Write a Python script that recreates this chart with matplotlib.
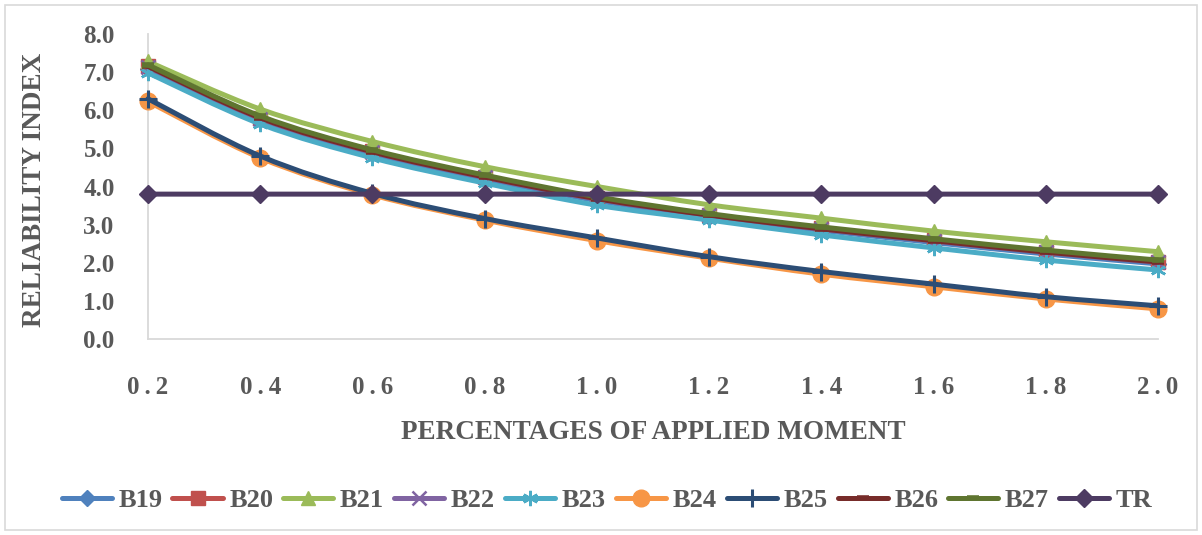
import matplotlib
matplotlib.use('Agg')
from matplotlib import pyplot as plt
from matplotlib.path import Path
from matplotlib.patches import PathPatch, Rectangle
from matplotlib.lines import Line2D
import numpy as np

plt.rcParams['font.family'] = ['Liberation Serif', 'DejaVu Serif']

moment = [0.2, 0.4, 0.6, 0.8, 1.0, 1.2, 1.4, 1.6, 1.8, 2.0]
x_labels = ['0\u2009.\u20092', '0\u2009.\u20094', '0\u2009.\u20096', '0\u2009.\u20098', '1\u2009.\u20090',
            '1\u2009.\u20092', '1\u2009.\u20094', '1\u2009.\u20096', '1\u2009.\u20098', '2\u2009.\u20090']

b19 = [7.08, 5.74, 4.86, 4.20, 3.63, 3.21, 2.85, 2.53, 2.23, 1.97]
b20 = [7.17, 5.80, 4.92, 4.26, 3.69, 3.26, 2.90, 2.59, 2.29, 2.03]
b21 = [7.28, 6.03, 5.18, 4.52, 4.00, 3.52, 3.17, 2.83, 2.55, 2.29]
b22 = [7.14, 5.78, 4.90, 4.24, 3.67, 3.24, 2.88, 2.57, 2.27, 2.01]
b23 = [6.98, 5.64, 4.75, 4.09, 3.51, 3.12, 2.73, 2.39, 2.07, 1.81]
b24 = [6.23, 4.75, 3.78, 3.12, 2.58, 2.12, 1.70, 1.37, 1.05, 0.79]
b25 = [6.30, 4.80, 3.82, 3.16, 2.65, 2.16, 1.77, 1.44, 1.11, 0.87]
b26 = [7.15, 5.80, 4.91, 4.25, 3.68, 3.25, 2.89, 2.58, 2.28, 2.02]
b27 = [7.19, 5.85, 4.96, 4.30, 3.73, 3.29, 2.94, 2.63, 2.33, 2.07]
tr = [3.8, 3.8, 3.8, 3.8, 3.8, 3.8, 3.8, 3.8, 3.8, 3.8]

names = ['B19', 'B20', 'B21', 'B22', 'B23', 'B24', 'B25', 'B26', 'B27', 'TR']
series = [b19, b20, b21, b22, b23, b24, b25, b26, b27, tr]
colors = ['#4F81BD', '#C0504D', '#9BBB59', '#8064A2', '#4BACC6',
          '#F79646', '#2C4D75', '#772C2A', '#5F7530', '#4D3B62']
# (marker, size, edge width)
markers = [('D', 8.5, 1), ('s', 10, 1), ('^', 10, 1), ('x', 10, 1.8), ((6, 2, 0), 11, 1.8),
           ('o', 12, 1), ('+', 13, 2.2), ('_', 8, 4), ('_', 8, 4), ('D', 9, 1)]
text_color = '#595959'
grey = '#D9D9D9'


def smooth_path(xs, ys):
    # cubic bezier through the points, like a spreadsheet "smoothed line"
    pts = np.column_stack([xs, ys])
    n = len(pts)
    verts = [pts[0]]
    codes = [Path.MOVETO]
    for i in range(n - 1):
        p0 = pts[max(i - 1, 0)]
        p1 = pts[i]
        p2 = pts[i + 1]
        p3 = pts[min(i + 2, n - 1)]
        c1 = p1 + (p2 - p0) / 6.0
        c2 = p2 - (p3 - p1) / 6.0
        verts += [c1, c2, p2]
        codes += [Path.CURVE4] * 3
    return Path(verts, codes)


fig = plt.figure(figsize=(12.02, 5.35), dpi=100)
fig.patches.append(Rectangle((5 / 1202, 5 / 535), 1192 / 1202, 525 / 535, transform=fig.transFigure,
                             fill=False, edgecolor=grey, linewidth=1.2))
ax = fig.add_axes([148 / 1202, 196 / 535, 1010 / 1202, 305 / 535])

handles = []
for k, (name, vals) in enumerate(zip(names, series)):
    m, ms, mew = markers[k]
    patch = PathPatch(smooth_path(moment, vals), fill=False, edgecolor=colors[k],
                      linewidth=3.6, capstyle='round', joinstyle='round', zorder=2 + k, clip_on=False)
    ax.add_patch(patch)
    ax.plot(moment, vals, linestyle='none', marker=m, markersize=ms, markeredgewidth=mew,
            color=colors[k], zorder=2 + k, clip_on=False)
    handles.append(Line2D([], [], color=colors[k], linewidth=3.6, solid_capstyle='round',
                          marker=m, markersize=ms, markeredgewidth=mew))

ax.set_xlim(0.2, 2.0)
ax.set_ylim(0, 8)
ax.set_xticks(moment)
ax.set_xticklabels(x_labels, fontweight='bold')
ax.set_yticks(np.arange(0, 8.1, 1.0))
ax.set_yticklabels(['%.1f' % v for v in np.arange(0, 8.1, 1.0)], fontweight='bold')
ax.tick_params(length=0, labelsize=18, colors=text_color)
ax.tick_params(axis='x', pad=27)
ax.tick_params(axis='y', pad=24)

for side in ['top', 'right']:
    ax.spines[side].set_visible(False)
for side in ['left', 'bottom']:
    ax.spines[side].set_color(grey)
    ax.spines[side].set_linewidth(1.3)

ax.set_xlabel('PERCENTAGES OF APPLIED MOMENT', fontsize=19.5, fontweight='bold', color=text_color,
              va='center')
ax.set_ylabel('RELIABILITY INDEX', fontsize=19.5, fontweight='bold', color=text_color, va='center')
ax.xaxis.set_label_coords(0.5, -0.305)
ax.yaxis.set_label_coords(-0.112, 0.49)

fig.legend(handles, names, loc='center', bbox_to_anchor=(0.505, 35 / 535), ncol=10,
           frameon=False, prop={'size': 19, 'weight': 'bold'}, handlelength=1.9, handletextpad=0.25,
           columnspacing=0.38, labelcolor=text_color)

fig.savefig('out.png', dpi=100)
plt.close(fig)
